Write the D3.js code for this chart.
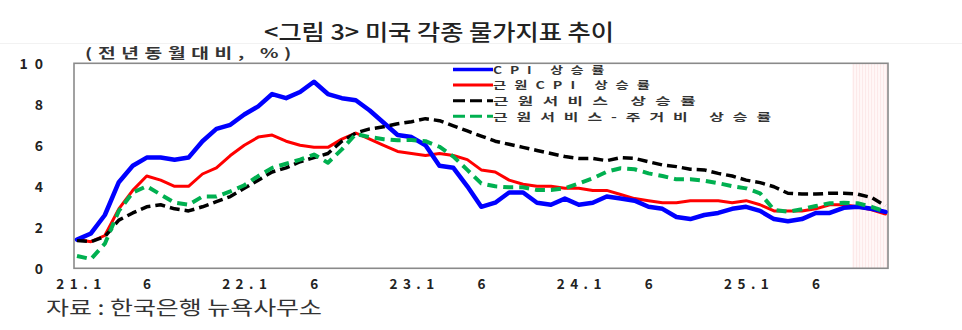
<!DOCTYPE html>
<html>
<head>
<meta charset="utf-8">
<script src="https://cdn.jsdelivr.net/npm/d3@7"></script>
<style>
  html, body { margin: 0; padding: 0; background: #fff; }
  svg { display: block; }
  text { font-family: "Noto Sans CJK KR", "Noto Sans", sans-serif; }
</style>
</head>
<body>
<div id="chart"></div>
<script>
// ---------- DATA ----------
const months = [
  "21.01","21.02","21.03","21.04","21.05","21.06","21.07","21.08","21.09","21.10","21.11","21.12",
  "22.01","22.02","22.03","22.04","22.05","22.06","22.07","22.08","22.09","22.10","22.11","22.12",
  "23.01","23.02","23.03","23.04","23.05","23.06","23.07","23.08","23.09","23.10","23.11","23.12",
  "24.01","24.02","24.03","24.04","24.05","24.06","24.07","24.08","24.09","24.10","24.11","24.12",
  "25.01","25.02","25.03","25.04","25.05","25.06","25.07","25.08","25.09","25.10","25.11"
];
const cpi = [
  1.4, 1.7, 2.6, 4.2, 5.0, 5.4, 5.4, 5.3, 5.4, 6.2, 6.8, 7.0,
  7.5, 7.9, 8.5, 8.3, 8.6, 9.1, 8.5, 8.3, 8.2, 7.7, 7.1, 6.5,
  6.4, 6.0, 5.0, 4.9, 4.0, 3.0, 3.2, 3.7, 3.7, 3.2, 3.1, 3.4,
  3.1, 3.2, 3.5, 3.4, 3.3, 3.0, 2.9, 2.5, 2.4, 2.6, 2.7, 2.9,
  3.0, 2.8, 2.4, 2.3, 2.4, 2.7, 2.7, 2.95, 3.0, 2.9, 2.75
];
const coreCpi = [
  1.4, 1.3, 1.6, 2.9, 3.8, 4.5, 4.3, 4.0, 4.0, 4.6, 4.9, 5.5,
  6.0, 6.4, 6.5, 6.2, 6.0, 5.9, 5.9, 6.3, 6.6, 6.3, 6.0, 5.7,
  5.6, 5.5, 5.6, 5.5, 5.3, 4.8, 4.7, 4.3, 4.1, 4.0, 4.0, 3.9,
  3.9, 3.8, 3.8, 3.6, 3.4, 3.3, 3.2, 3.2, 3.3, 3.3, 3.3, 3.2,
  3.3, 3.1, 2.8, 2.8, 2.8, 2.9, 3.1, 3.1, 3.0, 2.85, 2.65
];
const coreServices = [
  1.35, 1.3, 1.55, 2.35, 2.7, 3.0, 3.1, 2.9, 2.8, 3.0, 3.25, 3.5,
  3.9, 4.3, 4.7, 4.9, 5.2, 5.4, 5.6, 6.2, 6.6, 6.8, 6.9, 7.05,
  7.15, 7.3, 7.2, 6.95, 6.7, 6.45, 6.2, 6.05, 5.9, 5.75, 5.6, 5.45,
  5.36, 5.36, 5.25, 5.4, 5.36, 5.2, 5.04, 4.96, 4.83, 4.8, 4.63, 4.5,
  4.3, 4.18, 3.98, 3.66, 3.62, 3.62, 3.66, 3.66, 3.62, 3.45, 3.05
];
const supercore = [
  0.6, 0.45, 1.2, 2.8, 3.7, 4.0, 3.6, 3.2, 3.1, 3.5, 3.5, 3.75,
  4.05, 4.5, 4.9, 5.1, 5.3, 5.55, 5.15, 5.8, 6.55, 6.4, 6.3, 6.25,
  6.26, 6.2, 5.93, 5.45, 4.8, 4.14, 4.0, 3.95, 3.95, 3.82, 3.82, 3.9,
  4.14, 4.39, 4.71, 4.88, 4.83, 4.63, 4.5, 4.34, 4.34, 4.27, 4.15, 4.01,
  3.9, 3.66, 2.85, 2.76, 2.88, 3.04, 3.17, 3.2, 3.17, 3.0, 2.76
];
const seriesNames = ["CPI 상승률", "근원CPI 상승률", "근원서비스 상승률", "근원서비스-주거비 상승률"];
const seriesColors = ["#0000ff", "#ff0000", "#000000", "#00b050"];
const tickMonths = ["21.01","21.06","22.01","22.06","23.01","23.06","24.01","24.06","25.01","25.06"];
const tickLabels = ["21.1","6","22.1","6","23.1","6","24.1","6","25.1","6"];
const yTicks = [0, 2, 4, 6, 8, 10];
const shadeStart = 55.6; // shaded period (month index) to the end of chart
const titleText = "<그림 3> 미국 각종 물가지표 추이";
const unitText = "(전년동월대비, %)";
const sourceText = "자료 : 한국은행 뉴욕사무소";

// ---------- LAYOUT ----------
const W = 962, H = 330;
const frame = { left: 74, right: 888, top: 63.3, bottom: 268.3 };
const boldFont = "\"Liberation Sans\", \"Noto Sans CJK KR\", sans-serif";

const svg = d3.select("#chart").append("svg")
  .attr("width", W).attr("height", H);

const x = d3.scaleLinear().domain([0, months.length - 1]).range([77, 885.5]);
const y = d3.scaleLinear().domain([0, 10]).range([frame.bottom, frame.top]);

// faint line below title
svg.append("line").attr("x1", 0).attr("x2", W).attr("y1", 43.5).attr("y2", 43.5)
  .attr("stroke", "#f2f2f2").attr("stroke-width", 1);

// title
svg.append("text").attr("x", 264).attr("y", 40)
  .attr("font-size", 22).attr("font-weight", 500).attr("fill", "#222")
  .attr("textLength", 350).attr("lengthAdjust", "spacingAndGlyphs")
  .text(titleText);

// unit label
svg.append("text").attr("x", 85).attr("y", 58)
  .attr("font-family", boldFont)
  .attr("font-size", 13.5).attr("font-weight", 700).attr("fill", "#333")
  .attr("letter-spacing", "4px")
  .attr("textLength", 212).attr("lengthAdjust", "spacingAndGlyphs")
  .text(unitText);

// shaded region
const shadeX0 = x(shadeStart);
svg.append("rect").attr("x", shadeX0).attr("y", frame.top)
  .attr("width", frame.right - shadeX0).attr("height", frame.bottom - frame.top)
  .attr("fill", "#fff7f7");
const stripeG = svg.append("g");
d3.range(shadeX0 + 1.5, frame.right, 3).forEach(sx => {
  stripeG.append("line").attr("x1", sx).attr("x2", sx)
    .attr("y1", frame.top).attr("y2", frame.bottom)
    .attr("stroke", "#fbe4e4").attr("stroke-width", 0.8);
});

// frame
svg.append("rect").attr("x", frame.left).attr("y", frame.top)
  .attr("width", frame.right - frame.left).attr("height", frame.bottom - frame.top)
  .attr("fill", "none").attr("stroke", "#8a8a8a").attr("stroke-width", 1.6);

// y axis labels
const yAxis = d3.axisLeft(y).tickValues(yTicks).tickSize(0).tickPadding(0).tickFormat(d3.format("d"));
const yg = svg.append("g").attr("transform", "translate(50,0)").call(yAxis);
yg.select(".domain").remove();
yg.selectAll("text").attr("font-size", 14).attr("font-weight", 700).attr("fill", "#222")
  .attr("letter-spacing", "7px").attr("font-family", boldFont)
  .attr("dy", "0.35em");

// x axis labels
const xAxis = d3.axisBottom(x)
  .tickValues(tickMonths.map(m => months.indexOf(m)))
  .tickSize(0).tickPadding(0)
  .tickFormat((d, i) => tickLabels[i]);
const xg = svg.append("g").attr("transform", "translate(0,284.5)").call(xAxis);
xg.select(".domain").remove();
xg.selectAll("text").attr("font-size", 13.5).attr("font-weight", 700).attr("fill", "#222")
  .attr("letter-spacing", "5.5px").attr("font-family", boldFont)
  .attr("dx", "2.5px").attr("dy", "0.35em");
xg.selectAll(".tick text").filter((d, i) => i === 0).attr("dx", "4px");

// lines
const line = d3.line().x((d, i) => x(i)).y(d => y(d)).curve(d3.curveLinear);
const seriesData = [cpi, coreCpi, coreServices, supercore];
const widths = [4.5, 3, 3.5, 4];
const dashes = [null, null, "10,5", "10,6"];
const drawOrder = [1, 0, 2, 3];
drawOrder.forEach(k => {
  svg.append("path").datum(seriesData[k])
    .attr("d", line)
    .attr("fill", "none")
    .attr("stroke", seriesColors[k])
    .attr("stroke-width", widths[k])
    .attr("stroke-linejoin", "round")
    .attr("stroke-linecap", k >= 2 ? "butt" : "round")
    .attr("stroke-dasharray", dashes[k]);
});

// legend
const legendX = 453, legendLen = 40, legendY0 = 69.5, legendDy = 15.6;
const legendTextLen = [119, 165, 212, 287];
seriesNames.forEach((name, k) => {
  const ly = legendY0 + k * legendDy;
  svg.append("line").attr("x1", legendX).attr("x2", legendX + legendLen)
    .attr("y1", ly).attr("y2", ly)
    .attr("stroke", seriesColors[k])
    .attr("stroke-width", k === 0 ? 3.5 : 3)
    .attr("stroke-dasharray", k >= 2 ? "12,5" : null);
  svg.append("text")
    .attr("x", legendX + legendLen)
    .attr("y", ly + 4.2)
    .attr("font-family", boldFont)
    .attr("font-size", 10.7).attr("font-weight", 700).attr("fill", "#333")
    .attr("letter-spacing", "6px")
    .attr("textLength", legendTextLen[k]).attr("lengthAdjust", "spacingAndGlyphs")
    .text(name);
});

// source
svg.append("text").attr("x", 46).attr("y", 315)
  .attr("font-size", 19.5).attr("font-weight", 400).attr("fill", "#333")
  .attr("textLength", 276).attr("lengthAdjust", "spacingAndGlyphs")
  .text(sourceText);
</script>
</body>
</html>
